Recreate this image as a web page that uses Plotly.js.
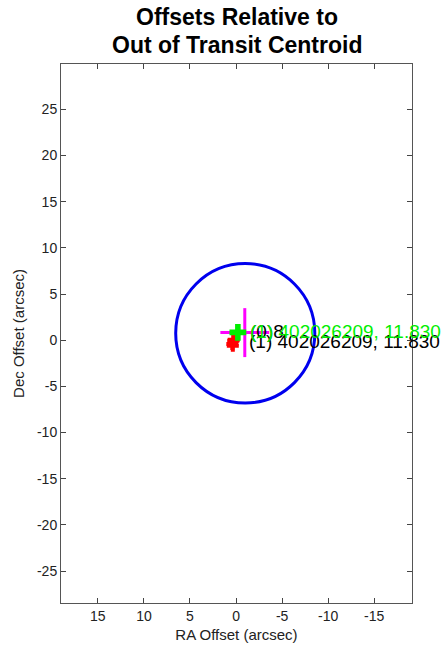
<!DOCTYPE html>
<html><head><meta charset="utf-8">
<script src="https://cdn.plot.ly/plotly-3.0.1.min.js"></script>
<style>html,body{margin:0;padding:0;background:#fff}</style>
</head><body>
<div id="chart" style="width:443px;height:654px"></div>
<script>
// Data
const circleCenter = [-1.0, 0.75];   // RA, Dec (arcsec)
const circleRadius = 7.55;
const centroidRA = [-0.95];
const centroidDec = [0.82];
const centroidErr = [2.65];
const greenRA = [-0.2];
const greenDec = [0.85];
const redRA = [0.3, 0.4, 0.25, 0.35];
const redDec = [-0.05, -0.4, 0.05, -0.6];
const labelGreen = "(1) 402026209, 11.830";
const labelBlackTop = "(0)8";
const labelBlack = "(1) 402026209, 11.830";
const labelGreenPos = [-1.3, 0.97];
const labelBlackTopPos = [-1.3, 0.97];
const labelBlackPos = [-1.15, -0.12];
const titleLines = ["Offsets Relative to", "Out of Transit Centroid"];
const xTicks = [15, 10, 5, 0, -5, -10, -15];
const yTicks = [25, 20, 15, 10, 5, 0, -5, -10, -15, -20, -25];

const font = "Liberation Sans, Arial, Helvetica, sans-serif";

const traces = [
  {x: centroidRA, y: centroidDec, type: 'scatter', mode: 'markers',
   marker: {size: 1, color: 'rgba(0,0,0,0)'},
   error_x: {type: 'data', array: centroidErr, color: '#ff00ff', thickness: 3, width: 0},
   error_y: {type: 'data', array: centroidErr, color: '#ff00ff', thickness: 3, width: 0},
   hoverinfo: 'skip'},
  {x: redRA, y: redDec, type: 'scatter', mode: 'markers',
   marker: {symbol: 'cross', size: 10, color: '#ff0000'}},
  {x: greenRA, y: greenDec, type: 'scatter', mode: 'markers',
   marker: {symbol: 'cross', size: 14, color: '#00ee00'}}
];

function ann(pos, text, color) {
  return {x: pos[0], y: pos[1], xref: 'x', yref: 'y', text: text, showarrow: false,
          xanchor: 'left', yanchor: 'middle',
          font: {family: font, size: 19, color: color}};
}

const layout = {
  width: 443, height: 654,
  margin: {l: 61, r: 31, t: 64, b: 51},
  showlegend: false,
  paper_bgcolor: '#fff', plot_bgcolor: '#fff',
  font: {family: font, color: '#222'},
  xaxis: {range: [19.0, -19.1], tickvals: xTicks, ticktext: xTicks.map(String),
          ticks: 'inside', ticklen: 5, tickcolor: '#444', mirror: 'ticks',
          showline: true, linecolor: '#555', linewidth: 1, showgrid: false, zeroline: false,
          tickfont: {family: font, size: 14, color: '#222'},
          title: {text: 'RA Offset (arcsec)', font: {family: font, size: 15, color: '#222'}, standoff: 6}},
  yaxis: {range: [-28.45, 29.9], tickvals: yTicks, ticktext: yTicks.map(String),
          ticks: 'inside', ticklen: 5, tickcolor: '#444', mirror: 'ticks',
          showline: true, linecolor: '#555', linewidth: 1, showgrid: false, zeroline: false,
          tickfont: {family: font, size: 14, color: '#222'},
          title: {text: 'Dec Offset (arcsec)', font: {family: font, size: 15, color: '#222'}, standoff: 8}},
  shapes: [{type: 'circle', xref: 'x', yref: 'y',
            x0: circleCenter[0] - circleRadius, x1: circleCenter[0] + circleRadius,
            y0: circleCenter[1] - circleRadius, y1: circleCenter[1] + circleRadius,
            line: {color: '#0000ee', width: 3}, layer: 'below'}],
  annotations: [
    {x: 0.5, y: 1, xref: 'paper', yref: 'paper', yshift: 47, showarrow: false,
     xanchor: 'center', yanchor: 'middle', text: '<b>' + titleLines[0] + '</b>',
     font: {family: font, size: 23, color: '#000'}},
    {x: 0.5, y: 1, xref: 'paper', yref: 'paper', yshift: 19, showarrow: false,
     xanchor: 'center', yanchor: 'middle', text: '<b>' + titleLines[1] + '</b>',
     font: {family: font, size: 23, color: '#000'}},
    ann(labelBlackTopPos, labelBlackTop, '#000'),
    ann(labelBlackPos, labelBlack, '#000'),
    ann(labelGreenPos, labelGreen, '#00ee00')
  ]
};

Plotly.newPlot('chart', traces, layout, {displayModeBar: false, staticPlot: true});
</script>
</body></html>
